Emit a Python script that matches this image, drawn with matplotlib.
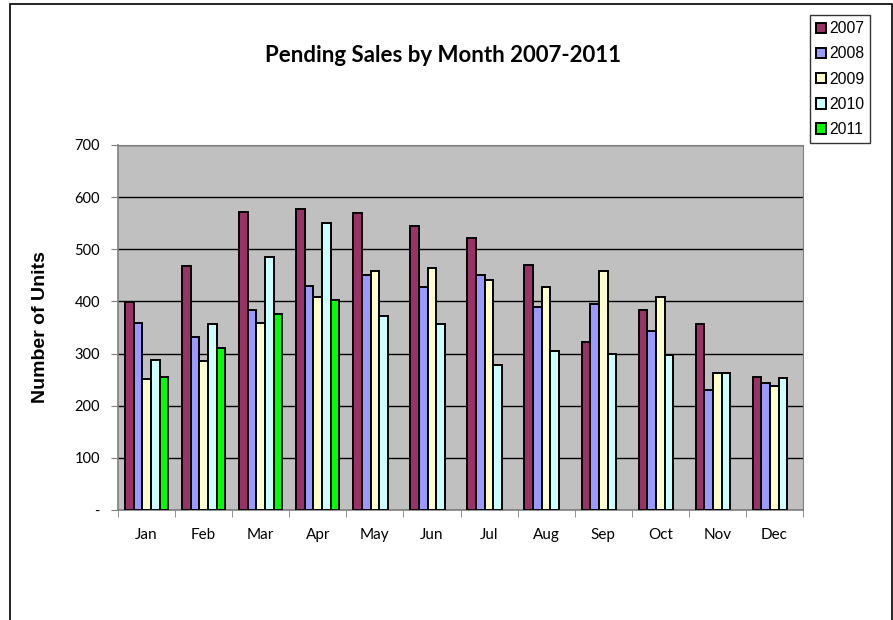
import numpy as np
import matplotlib
matplotlib.use('Agg')
import matplotlib.pyplot as plt
from matplotlib.patches import Rectangle

months = ['Jan', 'Feb', 'Mar', 'Apr', 'May', 'Jun',
          'Jul', 'Aug', 'Sep', 'Oct', 'Nov', 'Dec']
years = ['2007', '2008', '2009', '2010', '2011']

sales_2007 = [399, 468, 571, 577, 569, 545, 522, 470, 323, 383, 356, 256]
sales_2008 = [359, 331, 384, 429, 450, 428, 450, 390, 396, 344, 231, 244]
sales_2009 = [252, 286, 358, 408, 458, 465, 441, 428, 459, 408, 262, 237]
sales_2010 = [288, 356, 485, 550, 372, 356, 278, 305, 300, 298, 263, 254]
sales_2011 = [255, 311, 376, 402, np.nan, np.nan, np.nan, np.nan,
              np.nan, np.nan, np.nan, np.nan]

series = [sales_2007, sales_2008, sales_2009, sales_2010, sales_2011]
colors = ['#993366', '#9999FF', '#FFFFCC', '#CCFFFF', '#00FF00']

plt.rcParams['font.family'] = ['Lato', 'DejaVu Sans']

fig = plt.figure(figsize=(8.93, 6.2), dpi=100)
ax = fig.add_axes([118 / 893, 1 - 510 / 620, 685 / 893, 365 / 620])
ax.set_facecolor('#C0C0C0')

x = np.arange(len(months))
width = 0.152
for i, (vals, col, yr) in enumerate(zip(series, colors, years)):
    ax.bar(x + (i - 2) * width, vals, width, color=col, edgecolor='black',
           linewidth=1.4, label=yr, zorder=3)

ax.set_xlim(-0.5, 11.5)
ax.set_ylim(0, 700)
ax.set_yticks(range(0, 701, 100))
ax.set_yticklabels(['-'] + [str(v) for v in range(100, 701, 100)], fontsize=10.5)
ax.yaxis.grid(True, color='black', linewidth=1, zorder=1)
ax.set_axisbelow(True)

ax.set_xticks(x)
ax.set_xticklabels(months, fontsize=11)
ax.set_xticks(np.arange(-0.5, 12, 1), minor=True)
ax.tick_params(axis='x', which='major', length=0, pad=13)
ax.tick_params(axis='x', which='minor', length=5, direction='out', color='#808080')
ax.tick_params(axis='y', length=5, direction='out', color='#808080', pad=8)

for s in ['top', 'right']:
    ax.spines[s].set_color('#808080')
for s in ['left', 'bottom']:
    ax.spines[s].set_color('#808080')
    ax.spines[s].set_linewidth(1.2)

ax.set_ylabel('Number of Units', fontsize=14, fontweight='bold',
              family='Liberation Sans', labelpad=18)
fig.text(443 / 893, 1 - 55 / 620, 'Pending Sales by Month 2007-2011',
         ha='center', va='center', fontsize=16, fontweight='bold')

leg = fig.legend(loc='upper left', bbox_to_anchor=(810 / 893, 1 - 15 / 620),
                 prop={'family': 'Liberation Sans', 'size': 11.3},
                 frameon=True, fancybox=False, edgecolor='black',
                 handlelength=0.65, handleheight=0.65, handletextpad=0.15,
                 borderpad=0.4, labelspacing=0.65, borderaxespad=0)
leg.get_frame().set_linewidth(1.0)

# outer chart border
fig.patches.append(Rectangle((10 / 893, -0.1), 882 / 893, 1.1 - 4 / 620,
                             transform=fig.transFigure, fill=False,
                             edgecolor='black', linewidth=1.2))

fig.savefig('out.png', dpi=100)
